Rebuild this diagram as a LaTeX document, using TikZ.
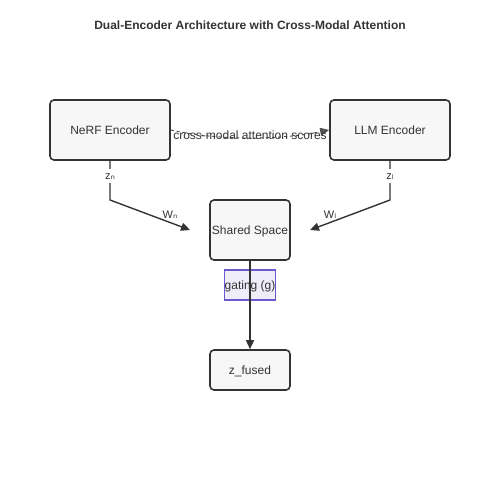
\documentclass[tikz,border=0pt]{standalone}
\usepackage{fontspec}
\setmainfont{Liberation Sans}
\newfontfamily\subfont{DejaVu Sans}
\usetikzlibrary{arrows.meta}
\definecolor{boxfill}{HTML}{F7F7F7}
\definecolor{boxline}{HTML}{333333}
\definecolor{gateline}{HTML}{6A5ACD}
\definecolor{gatefill}{HTML}{EFEDFA}
\tikzset{
  txt/.style={text height=10.9pt, text depth=2.5pt},
  blockbox/.style={draw=boxline, fill=boxfill, line width=1.6pt, rounded corners=4pt, minimum width=120pt, minimum height=60pt, inner sep=0pt, font=\fontsize{12}{14}\selectfont, text=boxline, txt},
  smallbox/.style={blockbox, minimum width=80pt},
  gatebox/.style={draw=gateline, fill=gatefill, line width=1.4pt, minimum width=50pt, minimum height=30pt, inner sep=0pt, font=\fontsize{12}{14}\selectfont, text=boxline, txt},
  conn/.style={draw=boxline, line width=1.4pt, -{Triangle[length=9pt,width=8pt]}},
  dashconn/.style={draw=boxline!85, line width=1pt, dash pattern=on 3pt off 3pt, -{Triangle[length=9pt,width=8pt]}},
  lbl/.style={font=\fontsize{11}{13}\selectfont, text=boxline, inner sep=1pt, text height=10pt, text depth=2.3pt}
}
\begin{document}
\begin{tikzpicture}[x=1pt,y=-1pt]
\useasboundingbox (0,0) rectangle (500,500);
\node[font=\bfseries\fontsize{12}{14}\selectfont, text=boxline, txt] (title) at (250,25) {Dual-Encoder Architecture with Cross-Modal Attention};
\node[blockbox] (nerf) at (110,130) {NeRF Encoder};
\node[blockbox] (llm) at (390,130) {LLM Encoder};
\node[smallbox] (shared) at (250,230) {Shared Space};
\node[smallbox, minimum height=40pt] (fused) at (250,370) {z\_fused};
\coordinate (nb) at (110,200);
\coordinate (lb) at (390,200);
\coordinate (sl) at (190,230);
\coordinate (sr) at (310,230);
\draw[conn] (nerf.south) -- node[lbl, pos=0.38, fill=white] {z{\subfont ₙ}} (nb) -- (sl);
\draw[conn] (llm.south) -- node[lbl, pos=0.38, fill=white] {z{\subfont ₗ}} (lb) -- (sr);
\node[lbl] (wl) at (170,215) {W{\subfont ₙ}};
\node[lbl] (wr) at (330,215) {W{\subfont ₗ}};
\draw[dashconn] (nerf.east) .. controls (220,141) and (280,140) .. (llm.west);
\node[font=\fontsize{12}{14}\selectfont, text=boxline, txt, inner sep=0pt] (att) at (250,135) {cross-modal attention scores};
\node[gatebox] (gate) at (250,285) {gating (g)};
\draw[conn] (shared.south) -- (fused.north);
\end{tikzpicture}
\end{document}
